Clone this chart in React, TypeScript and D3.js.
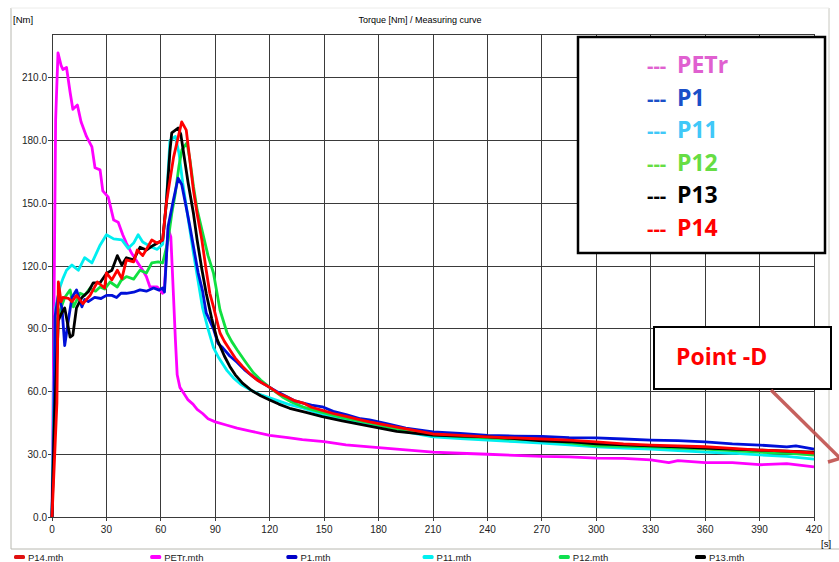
import { useEffect, useRef } from 'react';
import * as d3 from 'd3';

// Time (s) and torque (Nm) pairs
const petr = [[0,0],[1,90],[2,190],[3.3,222],[5,216],[6,214],[8,215],[10,203],[11.5,195],[14,197],[16,189],[19,182],[22,177],[23.7,167],[26.5,166],[28,156],[31,153],[34,142],[36.5,141],[39,135],[41,131],[44,126],[47,122],[50,118],[52,115],[54,110],[58,110],[61,107],[62,110],[64,138],[65.5,134],[67,105],[68,85],[69,68],[70.5,62],[72,60],[75,56],[77.7,54],[80,51.5],[83,49.5],[86,47],[90,45.5],[96,44],[102,42.5],[110,41],[120,39],[130,38],[138,37],[150,36],[162,34.5],[175,33.5],[190,32.5],[210,31],[225,30.5],[240,30],[255,29.5],[270,29],[285,28.8],[300,28.2],[315,28],[330,27.3],[340,26],[345,27],[360,26],[375,26],[390,25],[405,25.5],[420,24]];
const p1 = [[0,0],[1,40],[1.7,96],[3.5,106],[5.5,100],[7,82],[9,94],[11,105],[13.5,108.6],[16.5,100.5],[18,104],[20,103],[23.5,105],[27,104.5],[30,106],[33,106],[35.6,105],[38,107],[41,107],[45,107.5],[48.5,108.6],[52,108],[56,109.5],[59,108.5],[61,109.5],[62,107.6],[64,139],[67,152],[69.5,162],[71.5,159],[74,148],[76,139],[80.5,117],[83,108],[85,97.6],[89,90],[91.5,83],[94,81],[98,77],[102,74],[106,70.5],[111,67],[115,64.5],[120,62],[125,59.5],[129.5,57.5],[134,55.5],[138.5,54.5],[143,53.5],[149,52.7],[155,50.5],[162.6,48.8],[170,47],[175,46.4],[185,44.5],[195,42.5],[210,40.7],[225,40],[240,39],[255,38.7],[270,38.5],[285,38],[300,37.8],[315,37.3],[330,36.8],[345,36.5],[360,35.9],[375,35],[390,34.4],[405,33.5],[410,34],[420,32.5]];
const p11 = [[0,0],[1,60],[2,100],[4.4,110],[6,114],[8,118],[11,120.5],[14.5,118],[18,124],[22,121.5],[26.5,130],[30,135],[34,133],[38.5,132.5],[42,128.5],[45,131],[47.5,135],[50,131.5],[55,129],[58,128],[61,130.5],[63,150],[65,180],[68,182],[70,174],[72,160],[75,143],[78,126],[80.5,113],[83,100],[86,90],[89,81],[92,76],[96.5,70],[100,66.5],[104,63.5],[109,61],[114,58.8],[120,57],[130,54],[138.5,52],[149,49],[160,47],[175,44.5],[190,41.5],[210,38.3],[225,37.5],[240,36.8],[255,36],[270,35.4],[285,34.5],[300,33.5],[315,33],[330,32.5],[345,31.8],[360,31],[375,30.5],[390,29.7],[405,29],[420,27.7]];
const p12 = [[0,0],[1.5,60],[3,95],[5,100],[7,105],[10,108.6],[11.8,100.5],[15.5,107],[18,106],[21,109.5],[24,108],[26.5,110],[29,109],[32,112.4],[36,110],[38,113],[41,115],[45,113.8],[48.5,118],[52,116.7],[55,121.5],[58.5,122],[61,121.5],[62,125],[64,132.5],[66,145],[68,155],[70,168],[71.6,175.6],[74.4,179],[76,171],[78,158],[80,147],[83,136],[86,125],[89,116.7],[92.6,99],[96.5,88],[99,84],[102,80],[106,75],[111,69],[115,65.5],[120,62],[123,60],[127,57.4],[132,55],[138.5,52.6],[143,51.5],[149,50],[160,47.5],[175,45],[190,42],[210,39.2],[225,38.5],[240,37.8],[255,37.2],[270,36.6],[285,35.5],[300,34],[315,33.8],[330,33.5],[345,33],[360,32.5],[375,31.8],[390,31],[405,30.5],[420,29.6]];
const p13 = [[0,0],[1.5,50],[3.5,94],[5,97],[7,100],[10,86],[11.5,87],[13.5,100],[16.5,105],[20,107.7],[22.7,112],[26.5,112],[30,116.5],[33,118],[36,125],[38.5,120.5],[41,124],[45,123],[48.5,129],[52,127.7],[56,130],[61,132.5],[63,150],[65,175],[66,183.7],[69.5,186],[71,183],[75,160],[78,145],[80,132.5],[82.5,119],[85,107],[88,95],[91,85],[95,77],[98,72],[101,68],[105,64],[110,60.5],[115,58],[120,56],[125,54],[131,52],[140,50],[149,48],[160,46],[175,43.5],[190,41],[210,39.2],[225,38.7],[240,38.3],[255,37.5],[270,36.4],[285,36],[300,35],[315,34.5],[330,34],[345,33.5],[360,33],[375,32.5],[390,32],[405,31.5],[420,31]];
const p14 = [[0,0],[1.5,30],[2.7,54.5],[3.5,112.4],[5,103],[6,105],[9,104.6],[11,103],[13.5,106],[17,102],[21,106],[25,112.4],[29,109.5],[30,116.7],[33,113.4],[36,118],[38.5,114],[41,123],[45,122],[47,127.7],[50,125],[55,132.5],[58,131],[61,132.5],[63,150],[67,172],[71.5,189],[74,185],[78,156],[80,145],[82.6,132.5],[85,118],[87,107],[89,100.5],[92.6,88],[95,84],[98,80],[101,76],[105,72],[109,68.5],[113,65.5],[120,62],[125,59],[129.5,57.4],[134,55.5],[138.5,54.5],[143,52.5],[149,51],[155,49.5],[162.6,48],[170,46.5],[175,45.5],[190,43],[210,39.7],[225,39],[240,38.3],[255,37.8],[270,37.3],[285,36.8],[300,35.9],[315,35],[330,34.4],[345,34],[360,33.6],[375,32.8],[390,32],[405,31.5],[420,30.6]];

const xTicks = d3.range(0, 421, 30);
const yTicks = d3.range(0, 211, 30);
// bottom file legend, in its own order
const fileLabels = ['P14.mth', 'PETr.mth', 'P1.mth', 'P11.mth', 'P12.mth', 'P13.mth'];
const fileColors = ['#e01010', '#ff00ff', '#0000c8', '#00f0f0', '#10e050', '#000000'];
// overlay legend box
const boxLabels = ['PETr', 'P1', 'P11', 'P12', 'P13', 'P14'];
const boxColors = ['#e060d0', '#1a4fc8', '#40c8f8', '#66dd44', '#000000', '#ff0000'];

const App = () => {
  const ref = useRef(null);

  useEffect(() => {
    const root = d3.select(ref.current);
    root.selectAll('*').remove();

    const width = 839, height = 562;
    const left = 52, right = 814, top = 34, bottom = 517;
    const font = '"Liberation Sans Narrow", "Liberation Sans", Arial, sans-serif';

    const x = d3.scaleLinear().domain([0, 420]).range([left, right]);
    const y = d3.scaleLinear().domain([0, 231]).range([bottom, top]);

    const svg = root.append('svg')
      .attr('width', width)
      .attr('height', height)
      .attr('viewBox', [0, 0, width, height])
      .style('display', 'block');

    svg.append('rect').attr('width', width).attr('height', height).attr('fill', '#fff');

    // panel frame
    svg.append('line').attr('x1', 11).attr('x2', 11).attr('y1', 8).attr('y2', 549).attr('stroke', '#b8b8b0');
    svg.append('line').attr('x1', 829).attr('x2', 829).attr('y1', 8).attr('y2', 549).attr('stroke', '#c8c8c0');
    svg.append('line').attr('x1', 11).attr('x2', 829).attr('y1', 8).attr('y2', 8).attr('stroke', '#ececea');
    svg.append('line').attr('x1', 11).attr('x2', 839).attr('y1', 549).attr('y2', 549).attr('stroke', '#b8b8b0');

    svg.append('text').attr('x', 13).attr('y', 23).attr('font-family', font).attr('font-size', 9.5).text('[Nm]');
    svg.append('text').attr('x', 420).attr('y', 23).attr('text-anchor', 'middle')
      .attr('font-family', font).attr('font-size', 9).text('Torque [Nm] / Measuring curve');
    svg.append('text').attr('x', 821).attr('y', 547).attr('font-family', font).attr('font-size', 9.5).text('[s]');

    // grid
    const grid = svg.append('g').attr('stroke', '#3a3a3a').attr('stroke-width', 1).attr('shape-rendering', 'crispEdges');
    grid.selectAll('.vx').data(xTicks.slice(1)).join('line')
      .attr('x1', (d) => x(d)).attr('x2', (d) => x(d)).attr('y1', top).attr('y2', bottom + 4);
    grid.selectAll('.hy').data(yTicks.slice(1)).join('line')
      .attr('x1', left - 4).attr('x2', right).attr('y1', (d) => y(d)).attr('y2', (d) => y(d));
    grid.append('line').attr('x1', left).attr('x2', right).attr('y1', top).attr('y2', top);
    grid.append('line').attr('x1', left).attr('x2', left).attr('y1', top).attr('y2', bottom + 4);
    grid.append('line').attr('x1', left - 4).attr('x2', right).attr('y1', bottom).attr('y2', bottom);

    // tick labels
    svg.append('g').selectAll('text').data(yTicks).join('text')
      .attr('x', 47).attr('y', (d) => y(d) + 3.5).attr('text-anchor', 'end')
      .attr('font-family', font).attr('font-size', 10).attr('fill', '#222')
      .text((d) => d.toFixed(1));
    svg.append('g').selectAll('text').data(xTicks).join('text')
      .attr('x', (d) => x(d)).attr('y', 533).attr('text-anchor', 'middle')
      .attr('font-family', font).attr('font-size', 10).attr('fill', '#222')
      .text((d) => d);

    // curves
    const line = d3.line().x((d) => x(d[0])).y((d) => y(d[1]));
    const curves = [
      [petr, '#ff00ff'],
      [p11, '#00eef0'],
      [p12, '#10e040'],
      [p1, '#0010d8'],
      [p13, '#000000'],
      [p14, '#ff0000'],
    ];
    svg.append('g').selectAll('path').data(curves).join('path')
      .attr('d', (d) => line(d[0]))
      .attr('fill', 'none')
      .attr('stroke', (d) => d[1])
      .attr('stroke-width', 2.8)
      .attr('stroke-linejoin', 'round');

    // bottom file legend
    const fl = svg.append('g').selectAll('g').data(fileLabels).join('g')
      .attr('transform', (d, i) => `translate(${14 + i * 136.2}, 0)`);
    fl.append('rect').attr('x', 0).attr('y', 555).attr('width', 11).attr('height', 4).attr('rx', 1.5)
      .attr('fill', (d, i) => fileColors[i]);
    fl.append('text').attr('x', 14).attr('y', 561).attr('font-family', font).attr('font-size', 9.5)
      .attr('fill', '#222').text((d) => d);

    // overlay legend box
    svg.append('rect').attr('x', 578).attr('y', 37).attr('width', 247).attr('height', 216)
      .attr('fill', '#fff').attr('stroke', '#000').attr('stroke-width', 2.5);
    const bl = svg.append('g').selectAll('text').data(boxLabels).join('text')
      .attr('y', (d, i) => 73 + i * 32.6)
      .attr('font-family', '"Open Sans", sans-serif').attr('font-weight', 700).attr('font-size', 23)
      .attr('fill', (d, i) => boxColors[i]);
    bl.append('tspan').attr('x', 647).attr('font-size', 20).text('---');
    bl.append('tspan').attr('x', 677).text((d) => d);

    // Point -D callout
    svg.append('rect').attr('x', 654).attr('y', 327).attr('width', 177).attr('height', 62)
      .attr('fill', '#fff').attr('stroke', '#000').attr('stroke-width', 2);
    svg.append('text').attr('x', 676).attr('y', 365)
      .attr('font-family', '"Open Sans", sans-serif').attr('font-weight', 700).attr('font-size', 23)
      .attr('fill', '#ff0000').text('Point -D');
    svg.append('line').attr('x1', 771).attr('y1', 390).attr('x2', 852).attr('y2', 470)
      .attr('stroke', '#c0504d').attr('stroke-width', 3.5).attr('opacity', 0.9);
    svg.append('line').attr('x1', 828).attr('y1', 462).attr('x2', 845).attr('y2', 457)
      .attr('stroke', '#c0504d').attr('stroke-width', 3.5).attr('opacity', 0.9);

  }, []);

  return <div ref={ref} style={{ position: 'fixed', left: 0, top: 0 }}></div>;
};

export default App;
